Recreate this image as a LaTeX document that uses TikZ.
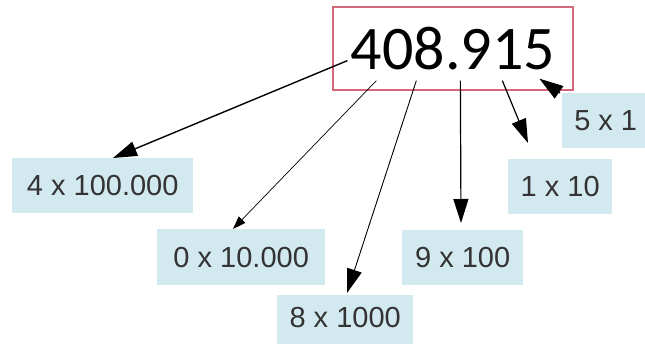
\documentclass[tikz,border=0pt]{standalone}
\usepackage{fontspec}
\setmainfont{Liberation Sans}
\newfontfamily\carl{Carlito}
\usetikzlibrary{arrows.meta,calc}
\definecolor{lblue}{HTML}{D3E9F0}
\definecolor{bred}{HTML}{D4687A}
\definecolor{tgray}{HTML}{333333}
\tikzset{
  lbl/.style={fill=lblue, inner sep=0pt, anchor=north west},
  lbltxt/.style={text=tgray, font=\fontsize{29}{30}\selectfont},
  conn/.style={-{Triangle[length=24pt,width=15pt]}, black, line width=1.2pt},
  thin conn/.style={-{Triangle[length=13pt,width=9pt]}, black, line width=0.7pt}
}
\begin{document}
\begin{tikzpicture}[x=1pt,y=-1pt]
\useasboundingbox (0,0) rectangle (645,347);
\fill[white] (0,0) rectangle (645,347);
% main number box
\node[draw=bred, line width=1.3pt, minimum width=240pt, minimum height=83pt, inner sep=0pt,
      font=\carl\fontsize{62}{62}\selectfont, text=black] (main) at (453,48.5) {\raisebox{-2pt}{408.915}};
% label boxes
\node[lbl, minimum width=181pt, minimum height=55pt] (n4) at (12,158) {};
\node[lbltxt] at (n4.center) {4 x 100.000};
\node[lbl, minimum width=168pt, minimum height=56pt] (n0) at (157,229) {};
\node[lbltxt] at (n0.center) {0 x 10.000};
\node[lbl, minimum width=136pt, minimum height=49pt] (n8) at (277,295) {};
\node[lbltxt] at ($(n8.center)+(0,-2)$) {8 x 1000};
\node[lbl, minimum width=121pt, minimum height=55pt] (n9) at (402,230) {};
\node[lbltxt] at (n9.center) {9 x 100};
\node[lbl, minimum width=104pt, minimum height=55pt] (n1) at (508,159) {};
\node[lbltxt] at (n1.center) {1 x 10};
\node[lbl, minimum width=83pt, minimum height=55pt] (n5) at (562,93) {};
\node[lbltxt] at ($(n5.center)+(2,0)$) {5 x 1};
% start points inside the main box
\coordinate (s1) at ($(main.south west)+(15,-30)$);
\coordinate (s2) at ($(main.south west)+(44,-10)$);
\coordinate (s3) at ($(main.south west)+(84,-10)$);
\coordinate (s4) at ($(main.south west)+(128,-10)$);
\coordinate (s5) at ($(main.south west)+(170,-10)$);
\coordinate (s6) at ($(main.south west)+(207,-12)$);
% connectors
\draw[conn, line width=1.4pt] (s1) -- ($(n4.north west)+(101,0)$);
\draw[thin conn] (s2) -- ($(n0.north west)+(76,0)$);
\draw[conn, line width=0.9pt] (s3) -- ($(n8.north west)+(70,-2)$);
\draw[conn] (s4) -- ($(n9.north west)+(59,-7)$);
\draw[conn] (s5) -- ($(n1.north west)+(20,-16)$);
\draw[conn] ($(n5.north west)+(-2,0)$) -- (s6);
\end{tikzpicture}
\end{document}
